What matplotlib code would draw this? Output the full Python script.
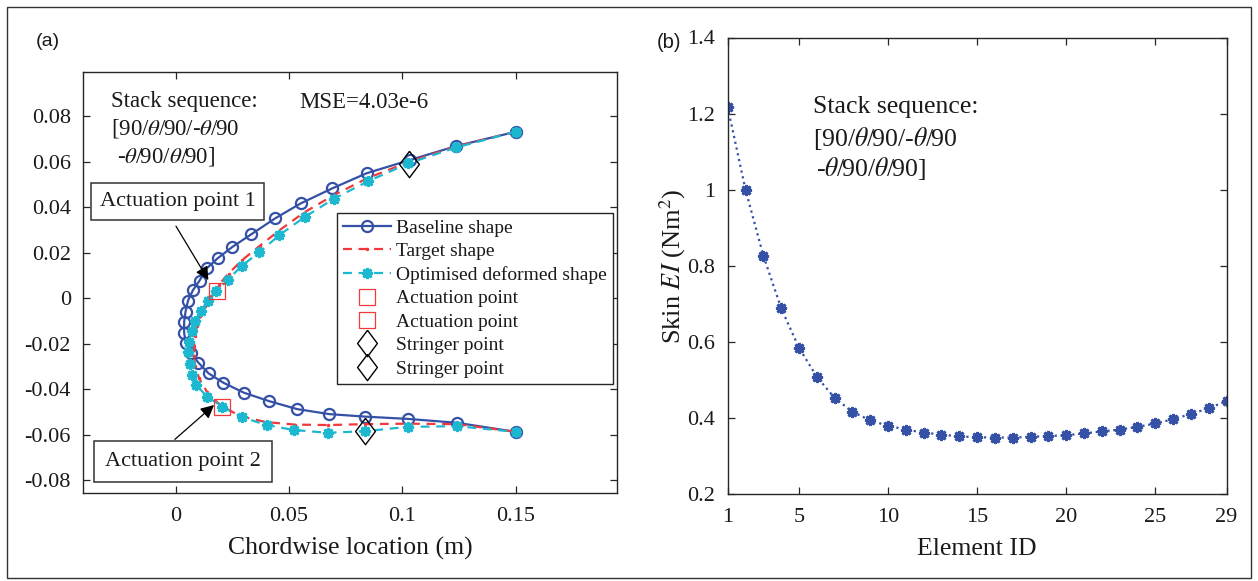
import matplotlib
matplotlib.use("Agg")
import matplotlib.pyplot as plt
from matplotlib.patches import Rectangle
import numpy as np

plt.rcParams['font.family'] = ['Liberation Serif', 'DejaVu Serif']
plt.rcParams['mathtext.fontset'] = 'stix'

# ---------------- data: panel (a) ----------------
baseline_x = [0.1500, 0.1237, 0.1034, 0.0843, 0.0690, 0.0551, 0.0438, 0.0334, 0.0250, 0.0185,
              0.0137, 0.0105, 0.0076, 0.0054, 0.0043, 0.0037, 0.0037, 0.0045, 0.0068, 0.0100,
              0.0145, 0.0210, 0.0301, 0.0412, 0.0536, 0.0678, 0.0835, 0.1024, 0.1240, 0.1500]
baseline_y = [0.0731, 0.0668, 0.0607, 0.0549, 0.0482, 0.0416, 0.0350, 0.0281, 0.0225, 0.0175,
              0.0131, 0.0077, 0.0035, -0.0011, -0.0060, -0.0104, -0.0154, -0.0199, -0.0242, -0.0284,
              -0.0331, -0.0372, -0.0416, -0.0453, -0.0488, -0.0510, -0.0521, -0.0531, -0.0548, -0.0588]

target_x = [0.1500, 0.1237, 0.1027, 0.0846, 0.0698, 0.0566, 0.0456, 0.0370, 0.0293, 0.0233,
            0.0189, 0.0154, 0.0127, 0.0107, 0.0094, 0.0085, 0.0081, 0.0081, 0.0085, 0.0103,
            0.0138, 0.0195, 0.0284, 0.0398, 0.0526, 0.0672, 0.0835, 0.1025, 0.1241, 0.1500]
target_y = [0.0731, 0.0666, 0.0598, 0.0527, 0.0453, 0.0376, 0.0297, 0.0229, 0.0167, 0.0108,
            0.0057, 0.0009, -0.0035, -0.0079, -0.0123, -0.0167, -0.0211, -0.0255, -0.0299, -0.0352,
            -0.0413, -0.0470, -0.0519, -0.0545, -0.0556, -0.0558, -0.0554, -0.0552, -0.0554, -0.0588]

optim_x = [0.1500, 0.1237, 0.1026, 0.0850, 0.0698, 0.0570, 0.0457, 0.0369, 0.0291, 0.0229,
           0.0178, 0.0142, 0.0112, 0.0087, 0.0072, 0.0059, 0.0054, 0.0063, 0.0072, 0.0090,
           0.0138, 0.0206, 0.0293, 0.0401, 0.0522, 0.0671, 0.0835, 0.1024, 0.1240, 0.1500]
optim_y = [0.0731, 0.0662, 0.0592, 0.0514, 0.0437, 0.0357, 0.0277, 0.0201, 0.0142, 0.0079,
           0.0031, -0.0015, -0.0057, -0.0101, -0.0145, -0.0193, -0.0237, -0.0288, -0.0338, -0.0382,
           -0.0433, -0.0478, -0.0524, -0.0558, -0.0580, -0.0592, -0.0585, -0.0566, -0.0563, -0.0588]

actuation_x = [0.0181, 0.0203]
actuation_y = [0.0031, -0.0479]
stringer_x = [0.1027, 0.0835]
stringer_y = [0.0588, -0.0582]

xticks_a = [0, 0.05, 0.1, 0.15]
xticklabels_a = ['0', '0.05', '0.1', '0.15']
yticks_a = [-0.08, -0.06, -0.04, -0.02, 0, 0.02, 0.04, 0.06, 0.08]
yticklabels_a = ['-0.08', '-0.06', '-0.04', '-0.02', '0', '0.02', '0.04', '0.06', '0.08']

# ---------------- data: panel (b) ----------------
element_id = list(range(1, 30))
skin_EI = [1.217, 1.000, 0.827, 0.689, 0.585, 0.509, 0.453, 0.417, 0.394, 0.380,
           0.370, 0.362, 0.357, 0.352, 0.350, 0.349, 0.349, 0.351, 0.353, 0.355,
           0.360, 0.365, 0.370, 0.377, 0.386, 0.397, 0.411, 0.426, 0.445]
xticks_b = [1, 5, 10, 15, 20, 25, 29]
yticks_b = [0.2, 0.4, 0.6, 0.8, 1.0, 1.2, 1.4]
yticklabels_b = ['0.2', '0.4', '0.6', '0.8', '1', '1.2', '1.4']

# ---------------- styling ----------------
W, H = 1258, 581
fig = plt.figure(figsize=(W / 100, H / 100), dpi=100)
txt = '#1a1a1a'
spine_c = '#262626'
blue = '#3551a6'
cyan = '#1cb8cf'
red = '#f2383a'
ast = (8, 2, 0)

def fx(px):
    return px / W

def fy(py):
    return 1 - py / H

ax1 = fig.add_axes([fx(83.3), fy(493.3), fx(617) - fx(83.3), fy(71.7) - fy(493.3)])
ax2 = fig.add_axes([fx(727.7), fy(494.3), fx(1226.5) - fx(727.7), fy(37.5) - fy(494.3)])

for ax in (ax1, ax2):
    for s in ax.spines.values():
        s.set_color(spine_c)
        s.set_linewidth(1.0)
    ax.tick_params(direction='in', length=5, width=0.9, colors=spine_c,
                   top=True, right=True, labelsize=16, labelcolor=txt, pad=9)
    ax.tick_params(axis='x', pad=10)

# Panel (a)
l_base, = ax1.plot(baseline_x, baseline_y, '-', color=blue, lw=1.6, marker='o', ms=8,
                   mfc='none', mec=blue, mew=1.6, label='Baseline shape', zorder=3)
l_targ, = ax1.plot(target_x, target_y, color=red, lw=1.6, dashes=(4, 3), marker='.', ms=3,
                   label='Target shape', zorder=4)
l_opt, = ax1.plot(optim_x, optim_y, color=cyan, lw=1.6, dashes=(4, 3), marker=ast, ms=8,
                  mec=cyan, mfc=cyan, mew=2.0, label='Optimised deformed shape', zorder=5)
a1, = ax1.plot(actuation_x[:1], actuation_y[:1], ls='none', marker='s', ms=11, mfc='none',
               mec=red, mew=0.9, label='Actuation point', zorder=6)
a2, = ax1.plot(actuation_x[1:], actuation_y[1:], ls='none', marker='s', ms=11, mfc='none',
               mec=red, mew=0.9, label='Actuation point', zorder=6)
dmd = [(0, 1), (0.75, 0), (0, -1), (-0.75, 0), (0, 1)]
s1, = ax1.plot(stringer_x[:1], stringer_y[:1], ls='none', marker=dmd, ms=19, mfc='none',
               mec='black', mew=1.0, label='Stringer point', zorder=7)
s2, = ax1.plot(stringer_x[1:], stringer_y[1:], ls='none', marker=dmd, ms=19, mfc='none',
               mec='black', mew=1.0, label='Stringer point', zorder=7)

ax1.set_xlim(-0.0408, 0.1947)
ax1.set_ylim(-0.0858, 0.0995)
ax1.set_xticks(xticks_a)
ax1.set_xticklabels(xticklabels_a)
ax1.set_yticks(yticks_a)
ax1.set_yticklabels(yticklabels_a)
ax1.set_xlabel('Chordwise location (m)', fontsize=18.5, color=txt, labelpad=8)

leg = ax1.legend(handles=[l_base, l_targ, l_opt, a1, a2, s1, s2], loc='upper left',
                 bbox_to_anchor=((336.7 - 83.3) / 533.7, (493.3 - 213.3) / 421.6),
                 fontsize=14, frameon=True, fancybox=False, framealpha=1, edgecolor=spine_c,
                 borderaxespad=0, borderpad=0.3, labelspacing=0.3, handlelength=2.5,
                 handletextpad=0.25)
leg.get_frame().set_linewidth(1.0)
for t in leg.get_texts():
    t.set_color(txt)

# annotations
for label, cx, cy, sx, sy, tx, ty, pd in [
        ('Actuation point 1', 0.0008, 0.0425, 0.0001, 0.0316, 0.0144, 0.0079, 0.4),
        ('Actuation point 2', 0.0030, -0.0717, -0.0004, -0.0621, 0.0169, -0.0470, 0.5)]:
    ax1.annotate('', xy=(tx, ty), xytext=(sx, sy),
                 arrowprops=dict(arrowstyle='-|>', color='black', lw=0.9,
                                 mutation_scale=20, shrinkA=0, shrinkB=0), zorder=8)
    ax1.text(cx, cy, label, fontsize=16, color=txt, ha='center', va='center', zorder=9,
             bbox=dict(boxstyle='square,pad=%g' % pd, fc='white', ec='#333333', lw=1.1))

fs_a = 16.5
fig.text(fx(111.3), fy(101.7), 'Stack sequence:', fontsize=fs_a, color=txt, va='center')
fig.text(fx(111.3), fy(128.3), r'[90/$\theta$/90/-$\theta$/90', fontsize=fs_a, color=txt, va='center')
fig.text(fx(117.3), fy(156), r'-$\theta$/90/$\theta$/90]', fontsize=fs_a, color=txt, va='center')
fig.text(fx(299), fy(102), 'MSE=4.03e-6', fontsize=fs_a, color=txt, va='center')

# Panel (b)
ax2.plot(element_id, skin_EI, color=blue, lw=1.6, ls=':', marker=ast, ms=8,
         mec=blue, mfc=blue, mew=2.0)
ax2.set_xlim(1, 29)
ax2.set_ylim(0.2, 1.4)
ax2.set_xticks(xticks_b)
ax2.set_yticks(yticks_b)
ax2.set_yticklabels(yticklabels_b)
ax2.set_xlabel('Element ID', fontsize=18.5, color=txt, labelpad=8)
ax2.set_ylabel(r'Skin $\mathit{EI}$ (Nm$^2$)', fontsize=19, color=txt)
ax2.yaxis.set_label_coords((688 - 727.7) / 498.8, 0.5)

fs_b = 18.5
fig.text(fx(812.7), fy(106.7), 'Stack sequence:', fontsize=fs_b, color=txt, va='center')
fig.text(fx(812.7), fy(139), r'[90/$\theta$/90/-$\theta$/90', fontsize=fs_b, color=txt, va='center')
fig.text(fx(816), fy(168.3), r'-$\theta$/90/$\theta$/90]', fontsize=fs_b, color=txt, va='center')

fig.text(fx(36), fy(41), '(a)', fontsize=14, color=txt, va='center', family='Liberation Sans')
fig.text(fx(657), fy(42), '(b)', fontsize=14.5, color=txt, va='center', family='Liberation Sans')

fig.patches.append(Rectangle((fx(7), fy(578)), fx(1251) - fx(7), fy(7) - fy(578),
                             transform=fig.transFigure, fill=False, ec='#333333', lw=1.0))

fig.savefig('out.png', dpi=100, facecolor='white')
